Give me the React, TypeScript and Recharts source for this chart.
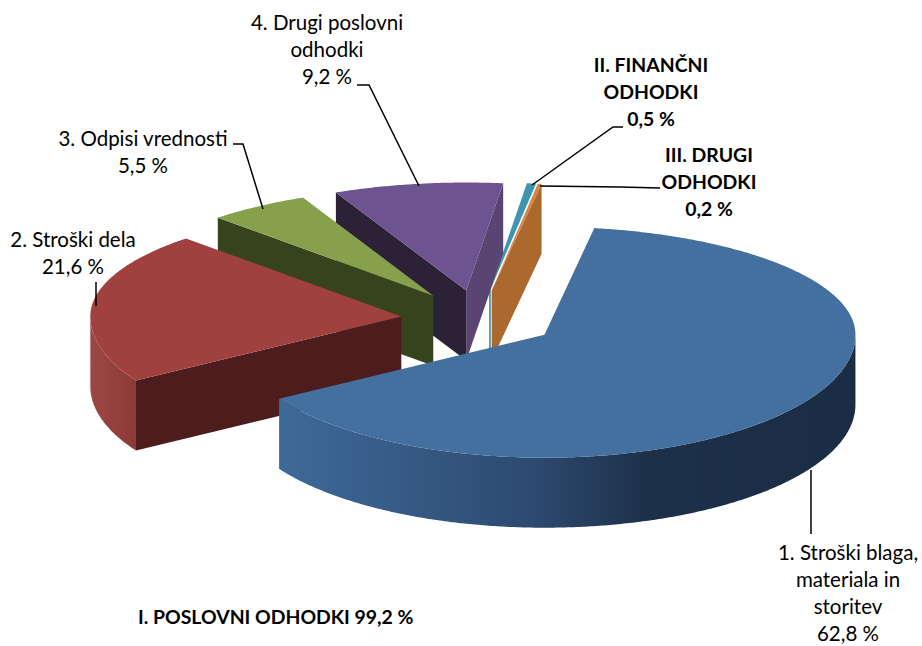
import React from "react";
import { PieChart, Pie } from "recharts";

// Listed in drawing order (back to front); angles run anticlockwise from the blue slice's start.
const categories = [
  "III. DRUGI ODHODKI",
  "II. FINANČNI ODHODKI",
  "4. Drugi poslovni odhodki",
  "3. Odpisi vrednosti",
  "2. Stroški dela",
  "1. Stroški blaga, materiala in storitev",
];
const values = [0.2, 0.5, 9.2, 5.5, 21.6, 62.8];
const labelLines = [
  ["III. DRUGI", "ODHODKI", "0,2 %"],
  ["II. FINANČNI", "ODHODKI", "0,5 %"],
  ["4. Drugi poslovni", "odhodki", "9,2 %"],
  ["3. Odpisi vrednosti", "5,5 %"],
  ["2. Stroški dela", "21,6 %"],
  ["1. Stroški blaga,", "materiala in", "storitev", "62,8 %"],
];
const boldLabels = [true, true, false, false, false, false];
const thinWalls = [false, true, false, false, false, false];
const topColors = ["#D4853F", "#3E95AE", "#6D5490", "#86A04C", "#A04140", "#44709F"];
const lightWalls = ["#AB692E", "#34819A", "#5A4472", "#6F8A3C", "#8A3836", "#3A608C"];
const darkWalls = ["#8A5424", "#2A6A80", "#2C2238", "#37431D", "#4C1D1C", "#1C2F47"];
const outerStops = [
  [["0", "#AB692E"], ["1", "#AB692E"]],
  [["0", "#34819A"], ["1", "#34819A"]],
  [["0", "#5A4472"], ["1", "#5A4472"]],
  [["0", "#6F8A3C"], ["1", "#6F8A3C"]],
  [["0", "#9C4744"], ["1", "#8C3A38"]],
  [["0", "#3E6A99"], ["0.44", "#2D4A70"], ["0.64", "#1D3049"], ["1", "#1B2D45"]],
];
const chartData = categories.map((name, i) => ({ name, value: values[i], index: i }));

// 3D projection constants
const RY_FRONT = 123;
const RY_BACK = 108;
const DEPTH = 70;
const EXPLODE = 78;
const EXPLODE_TILT = 0.37;
const WARP = 2.8;
const FONT = "Lato, 'Open Sans', sans-serif";
const FONT_SIZE = 20.5;
const BOLD_SIZE = 19.4;
const LINE_GAP = 27;

// Label placement: centre x, first baseline, leader-line points
const labelLayout = [
  { x: 709, y: 162, lead: [[660, 188], [620, 187], [540, 186]] },
  { x: 651, y: 72, lead: [[623, 127], [613, 127], [532, 185]] },
  { x: 327, y: 30, lead: [[357, 85], [369, 85], [419, 186]] },
  { x: 143, y: 146, lead: [[233, 144], [243, 144], [263, 209]] },
  { x: 73, y: 247, lead: [[96, 282], [96, 306]] },
  { x: 848, y: 560, lead: [[811, 470], [811, 534]] },
];

type Pt = { x: number; y: number; front: boolean };

function project(angle: number, ox: number, oy: number, R: number): Pt {
  const t = ((90 - angle) * Math.PI) / 180;
  const w = t - (WARP * Math.PI * Math.sin(t)) / 180;
  const s = -Math.cos(w);
  return { x: ox + R * Math.sin(w), y: oy + (s > 0 ? RY_FRONT : RY_BACK) * s, front: s >= 0 };
}

// A cut face shows only when its outward normal points down the screen.
function faceVisible(ox: number, oy: number, p: Pt, mid: Pt) {
  let nx = -(p.y - oy);
  let ny = p.x - ox;
  if (nx * (mid.x - ox) + ny * (mid.y - oy) > 0) {
    nx = -nx;
    ny = -ny;
  }
  return ny > 0;
}

function Slice3D(props: any) {
  const { cx, cy, outerRadius: R, startAngle, endAngle, midAngle, payload } = props;
  const i = payload.index;
  const m = ((90 - midAngle) * Math.PI) / 180;
  const ox = cx + EXPLODE * Math.sin(m);
  const oy = cy - EXPLODE * EXPLODE_TILT * Math.cos(m);
  const arc: Pt[] = [];
  const n = Math.max(2, Math.ceil(Math.abs(endAngle - startAngle) * 2));
  for (let k = 0; k <= n; k++) {
    arc.push(project(startAngle + ((endAngle - startAngle) * k) / n, ox, oy, R));
  }
  const first = arc[0];
  const last = arc[arc.length - 1];
  const mid = arc[Math.floor(arc.length / 2)];
  const topPath = `M${ox},${oy} ` + arc.map((p) => `L${p.x},${p.y}`).join(" ") + " Z";
  const wall = (p: Pt) =>
    `M${ox},${oy} L${p.x},${p.y} L${p.x},${p.y + DEPTH} L${ox},${oy + DEPTH} Z`;
  const fronts = arc.filter((p) => p.front);
  const outerPath =
    fronts.length > 1
      ? "M" +
        fronts.map((p) => `${p.x},${p.y}`).join(" L") +
        " L" +
        [...fronts].reverse().map((p) => `${p.x},${p.y + DEPTH}`).join(" L") +
        " Z"
      : null;
  const xs = fronts.map((p) => p.x);
  const id = `outer-wall-${i}`;
  return (
    <g>
      {faceVisible(ox, oy, first, mid) &&
        (thinWalls[i] ? (
          <line x1={ox} y1={oy} x2={ox} y2={oy + DEPTH} stroke={lightWalls[i]} strokeWidth={1.5} />
        ) : (
          <path d={wall(first)} fill={lightWalls[i]} />
        ))}
      {faceVisible(ox, oy, last, mid) && <path d={wall(last)} fill={darkWalls[i]} />}
      {outerPath && (
        <>
          <defs>
            <linearGradient
              id={id}
              gradientUnits="userSpaceOnUse"
              x1={Math.min(...xs)}
              x2={Math.max(...xs)}
              y1={0}
              y2={0}
            >
              {outerStops[i].map(([o, c]) => (
                <stop key={o} offset={o} stopColor={c} />
              ))}
            </linearGradient>
          </defs>
          <path d={outerPath} fill={`url(#${id})`} />
        </>
      )}
      <path d={topPath} fill={topColors[i]} />
    </g>
  );
}

function SliceLabel(props: any) {
  const i = props.index;
  const l = labelLayout[i];
  return (
    <g>
      <polyline
        points={l.lead.map((p) => p.join(",")).join(" ")}
        fill="none"
        stroke="#000"
        strokeWidth={1.5}
      />
      <text
        textAnchor="middle"
        fontFamily={FONT}
        fontSize={boldLabels[i] ? BOLD_SIZE : FONT_SIZE}
        fontWeight={boldLabels[i] ? 700 : 400}
        fill="#000"
      >
        {labelLines[i].map((t, k) => (
          <tspan key={k} x={l.x} y={l.y + k * LINE_GAP}>
            {t}
          </tspan>
        ))}
      </text>
    </g>
  );
}

export default function App() {
  return (
    <div style={{ position: "absolute", left: 0, top: 0, width: 922, height: 646, background: "#fff" }}>
      <PieChart width={922} height={646} margin={{ top: 0, right: 0, bottom: 0, left: 0 }}>
        <Pie
          data={chartData}
          dataKey="value"
          nameKey="name"
          cx={479}
          cy={319}
          innerRadius={0}
          outerRadius={311}
          startAngle={80.3}
          endAngle={440.3}
          stroke="none"
          isAnimationActive={false}
          shape={Slice3D}
          label={SliceLabel}
          labelLine={false}
        />
        <text x={138} y={624} fontFamily={FONT} fontSize={BOLD_SIZE} fontWeight={700} fill="#000">
          I. POSLOVNI ODHODKI 99,2 %
        </text>
      </PieChart>
    </div>
  );
}
